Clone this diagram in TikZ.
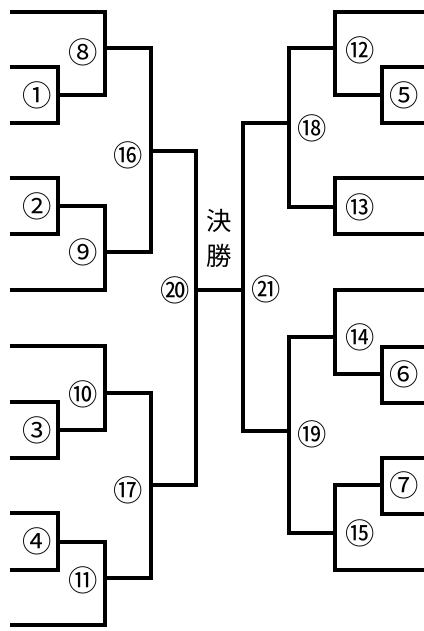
\documentclass[tikz,border=0pt]{standalone}
\usepackage{fontspec}
\newfontfamily\cjk{Noto Sans CJK JP}
\begin{document}
\begin{tikzpicture}[x=0.75pt,y=-0.75pt,
  ln/.style={line width=2.3pt,line cap=rect,line join=miter},
  num/.style={font=\cjk\fontsize{22pt}{22pt}\selectfont,inner sep=0pt},
  ttl/.style={font=\cjk\fontsize{19pt}{19pt}\selectfont,inner sep=0pt}]
\useasboundingbox (0,0) rectangle (424,631);
% ---- left side
\draw[ln] (12,12) -- (105,12) -- (105,95) -- (58,95);
\draw[ln] (12,67) -- (58,67) -- (58,123) -- (12,123);
\draw[ln] (105,48) -- (151,48) -- (151,252) -- (105,252);
\draw[ln] (12,178) -- (58,178) -- (58,234) -- (12,234);
\draw[ln] (58,206) -- (105,206) -- (105,290) -- (12,290);
\draw[ln] (151,151) -- (196,151) -- (196,485) -- (151,485);
\draw[ln] (12,346) -- (105,346) -- (105,430) -- (58,430);
\draw[ln] (12,402) -- (58,402) -- (58,458) -- (12,458);
\draw[ln] (105,393) -- (151,393) -- (151,578) -- (105,578);
\draw[ln] (12,513) -- (58,513) -- (58,570) -- (12,570);
\draw[ln] (58,542) -- (105,542) -- (105,625) -- (12,625);
% ---- final
\draw[ln] (196,290) -- (243,290);
% ---- right side
\draw[ln] (289,123) -- (243,123) -- (243,431) -- (289,431);
\draw[ln] (335,48) -- (289,48) -- (289,207) -- (335,207);
\draw[ln] (424,12) -- (335,12) -- (335,95) -- (382,95);
\draw[ln] (424,67) -- (382,67) -- (382,123) -- (424,123);
\draw[ln] (424,178) -- (335,178) -- (335,234) -- (424,234);
\draw[ln] (335,337) -- (289,337) -- (289,533) -- (335,533);
\draw[ln] (424,290) -- (335,290) -- (335,374) -- (382,374);
\draw[ln] (424,347) -- (382,347) -- (382,403) -- (424,403);
\draw[ln] (382,485) -- (335,485) -- (335,570) -- (424,570);
\draw[ln] (424,458) -- (382,458) -- (382,514) -- (424,514);
% ---- labels
\node[num] (n1)  at (37,95)  {①};
\node[num] (n2)  at (37,206) {②};
\node[num] (n3)  at (37,430) {③};
\node[num] (n4)  at (37,541) {④};
\node[num] (n5)  at (404,95) {⑤};
\node[num] (n6)  at (404,374) {⑥};
\node[num] (n7)  at (404,485) {⑦};
\node[num] (n8)  at (83,52)  {⑧};
\node[num] (n9)  at (83,252) {⑨};
\node[num] (n10) at (83,394) {⑩};
\node[num] (n11) at (83,580) {⑪};
\node[num] (n12) at (360,50) {⑫};
\node[num] (n13) at (360,207) {⑬};
\node[num] (n14) at (360,337) {⑭};
\node[num] (n15) at (360,533) {⑮};
\node[num] (n16) at (128,155) {⑯};
\node[num] (n17) at (128,490) {⑰};
\node[num] (n18) at (312,128) {⑱};
\node[num] (n19) at (312,434) {⑲};
\node[num] (n20) at (175,290) {⑳};
\node[num] (n21) at (266,289) {㉑};
\node[ttl] (k1) at (219,221) {決};
\node[ttl] (k2) at (219,256) {勝};
\end{tikzpicture}
\end{document}
